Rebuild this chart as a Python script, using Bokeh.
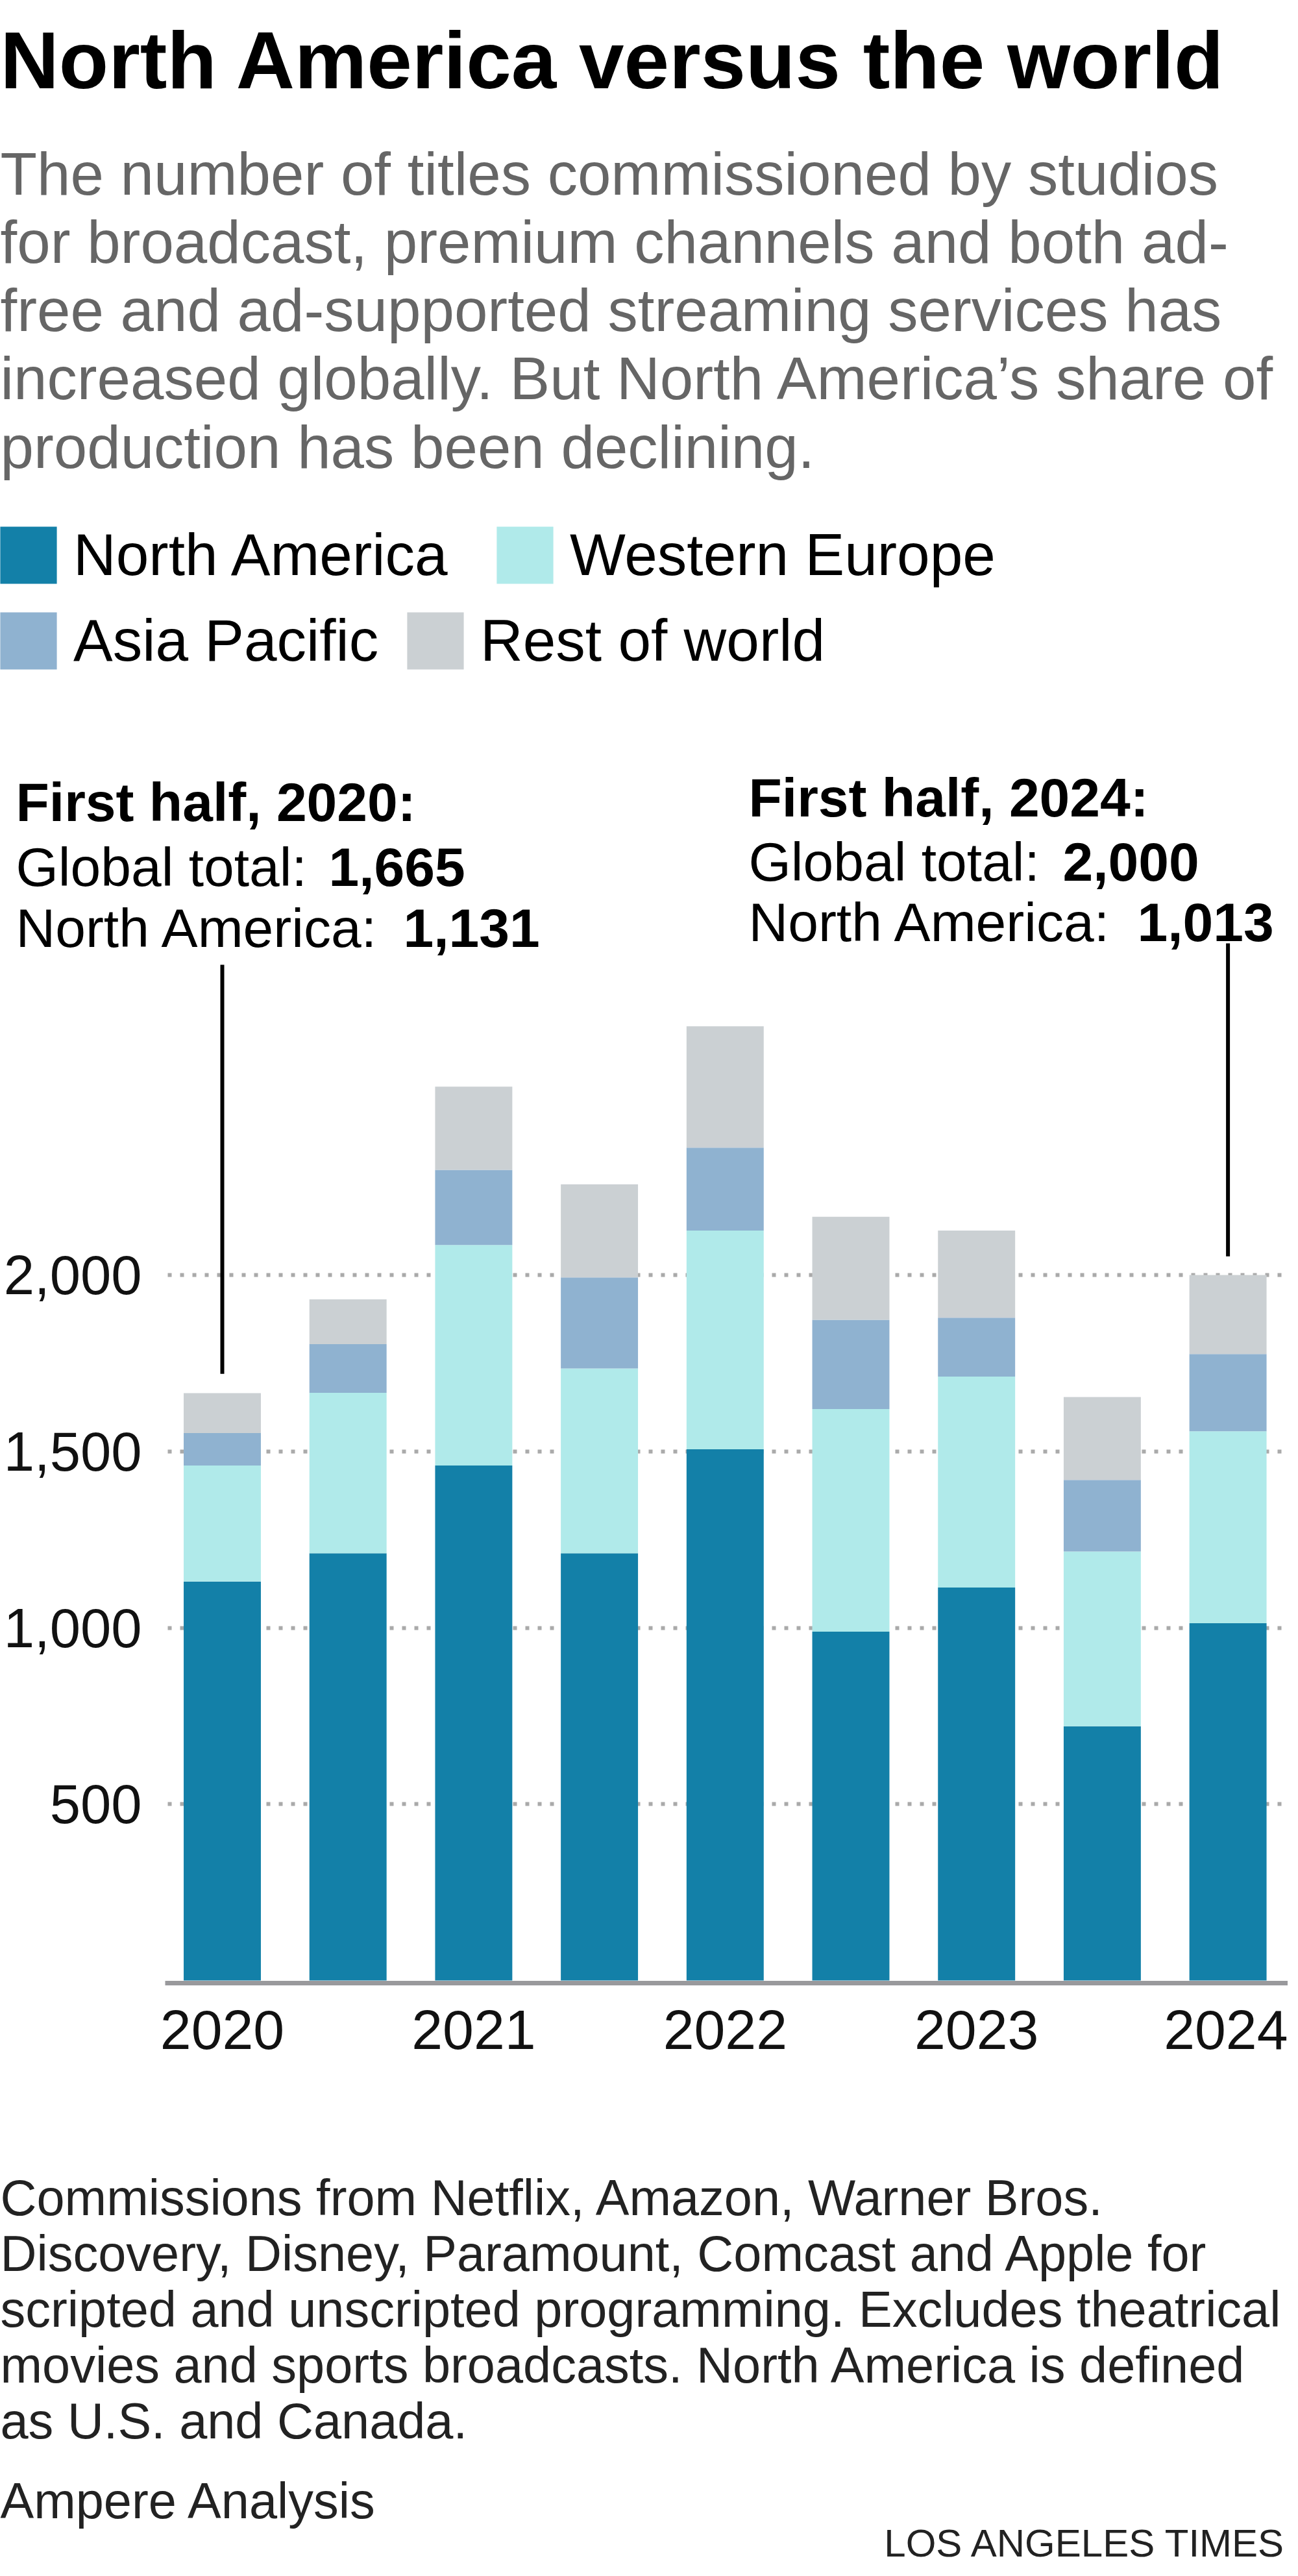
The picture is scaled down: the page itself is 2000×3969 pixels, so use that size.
from bokeh.plotting import figure
from bokeh.models import (Range1d, FixedTicker, NumeralTickFormatter, Label,
                          Legend, LegendItem, ColumnDataSource, LinearAxis, Grid)
from bokeh.embed import file_html
from bokeh.resources import INLINE

# ---------------- data ----------------
periods = ["2020 H1", "2020 H2", "2021 H1", "2021 H2", "2022 H1",
           "2022 H2", "2023 H1", "2023 H2", "2024 H1"]
north_america = [1131, 1211, 1460, 1211, 1506, 989, 1114, 721, 1013]
western_europe = [329, 455, 625, 524, 620, 631, 598, 495, 544]
asia_pacific = [92, 138, 213, 258, 235, 253, 167, 203, 219]
rest_of_world = [113, 127, 236, 264, 344, 292, 247, 235, 224]
series_names = ["North America", "Western Europe", "Asia Pacific", "Rest of world"]
y_ticks = [500, 1000, 1500, 2000]

# ---------------- geometry / styling ----------------
FONT = "Liberation Sans"
colors = ["#1380a8", "#b0eaea", "#8fb2d0", "#cbd0d3"]
W, H = 1984, 3953
PX_X = 193.7            # px per bar slot
PX_Y = 0.5435           # px per title
BAR0 = 342              # canvas x of first bar centre
BASE = 3051             # canvas y of value 0
CHART_LEFT = 254        # canvas x where plotting area starts
x0 = -BAR0 / PX_X
y0 = -(H - BASE) / PX_Y
x_left = x0 + CHART_LEFT / PX_X

xs = list(range(len(periods)))
totals = [a + b + c + d for a, b, c, d in zip(north_america, western_europe, asia_pacific, rest_of_world)]
src = ColumnDataSource(dict(x=xs, na=north_america, we=western_europe,
                            ap=asia_pacific, rw=rest_of_world))

p = figure(width=W, height=H, output_backend="svg", toolbar_location=None,
           x_range=Range1d(x0, x0 + W / PX_X), y_range=Range1d(y0, y0 + H / PX_Y),
           x_axis_type=None, y_axis_type=None, title=None,
           min_border=0, min_border_left=0, min_border_right=0,
           min_border_top=0, min_border_bottom=0)
p.outline_line_color = None
p.background_fill_color = "white"
p.border_fill_color = "white"
p.xgrid.visible = False
p.ygrid.visible = False

# gridlines (beneath the bars)
grid_kw = dict(grid_line_color="#aaaaaa", grid_line_width=6, grid_line_dash="6 13")
if "cross_bounds" in Grid.properties():
    yg = Grid(dimension=1, ticker=FixedTicker(ticks=y_ticks),
              cross_bounds=(x_left + 0.02, x0 + 1979 / PX_X), **grid_kw)
    p.add_layout(yg)
else:
    p.segment(x0=[x_left + 0.02] * len(y_ticks), x1=[x0 + 1979 / PX_X] * len(y_ticks),
              y0=y_ticks, y1=y_ticks, line_color="#aaaaaa", line_width=6, line_dash="6 13")

rs = p.vbar_stack(["na", "we", "ap", "rw"], x="x", width=0.614, source=src,
                  fill_color=colors, line_color=None)

# axes drawn at fixed locations so they do not shrink the canvas
tick_idx = [i for i, s in enumerate(periods) if s.endswith("H1")]
xaxis = LinearAxis(fixed_location=-3.5 / PX_Y, bounds=(x_left, x0 + W / PX_X),
                   ticker=FixedTicker(ticks=tick_idx),
                   major_label_overrides={i: periods[i].split()[0] for i in tick_idx},
                   minor_tick_line_color=None, major_tick_line_color=None,
                   axis_line_color="#99999c", axis_line_width=7,
                   major_label_text_font=FONT, major_label_text_font_size="86px",
                   major_label_text_color="#111111", major_label_standoff=37)
p.add_layout(xaxis, "below")

yaxis = LinearAxis(fixed_location=x_left, ticker=FixedTicker(ticks=y_ticks),
                   formatter=NumeralTickFormatter(format="0,0"),
                   minor_tick_line_color=None, major_tick_line_color=None,
                   axis_line_color=None,
                   major_label_text_font=FONT, major_label_text_font_size="85px",
                   major_label_text_color="#111111", major_label_standoff=30)
p.add_layout(yaxis, "left")

# leader lines from the annotations down to the first and last bars
last = len(periods) - 1
p.segment(x0=[0, last], x1=[0, last], y0=[totals[0] + 55, totals[last] + 53],
          y1=[(BASE - 1486) / PX_Y, (BASE - 1453) / PX_Y],
          line_color="#000000", line_width=6)


def lab(text, fx, fy, size, color="#000000", bold=False, align="left"):
    p.add_layout(Label(x=fx, y=H - fy, x_units="screen", y_units="screen",
                       text=text, text_font=FONT, text_font_size=f"{size}px",
                       text_color=color, text_font_style="bold" if bold else "normal",
                       text_align=align, text_baseline="alphabetic"))


def fmt(v):
    return f"{v:,}"


# title & subtitle
lab("North America versus the world", 0, 92, 125, bold=True)
sub = ["The number of titles commissioned by studios",
       "for broadcast, premium channels and both ad-",
       "free and ad-supported streaming services has",
       "increased globally. But North America\u2019s share of",
       "production has been declining."]
for i, s in enumerate(sub):
    lab(s, 0, 267 + i * 105.3, 92.5, color="#666666")

# legend: one Legend per entry, arranged in two rows
leg_box = [(-11, 910), (754, 910), (-11, 1042), (616, 1042)]   # (left, bottom) of entry box
for r, name, (bx, by) in zip(rs, series_names, leg_box):
    lg = Legend(items=[LegendItem(label=name, renderers=[r])], location=(bx, H - by),
                orientation="horizontal", padding=0, margin=0, spacing=0,
                glyph_width=109, glyph_height=110, label_standoff=15,
                label_text_font=FONT, label_text_font_size="91px",
                label_text_color="#000000", border_line_color=None,
                background_fill_alpha=0)
    p.add_layout(lg, "center")

# annotations
first_y = periods[0].split()[0]
last_y = periods[last].split()[0]
lab(f"First half, {first_y}:", 24, 1235, 84, bold=True)
lab("Global total: ", 24, 1335, 84)
lab(fmt(totals[0]), 506, 1335, 84, bold=True)
lab("North America: ", 24, 1429, 84)
lab(fmt(north_america[0]), 621, 1429, 84, bold=True)

lab(f"First half, {last_y}:", 1153, 1228, 84, bold=True)
lab("Global total: ", 1153, 1327, 84)
lab(fmt(totals[last]), 1637, 1327, 84, bold=True)
lab("North America: ", 1153, 1420, 84)
lab(fmt(north_america[last]), 1752, 1420, 84, bold=True)

# footer
notes = ["Commissions from Netflix, Amazon, Warner Bros.",
         "Discovery, Disney, Paramount, Comcast and Apple for",
         "scripted and unscripted programming. Excludes theatrical",
         "movies and sports broadcasts. North America is defined",
         "as U.S. and Canada."]
for i, s in enumerate(notes):
    lab(s, 0, 3385 + i * 86.1, 77.5, color="#222222")
lab("Ampere Analysis", 0, 3852, 77.5, color="#222222")
lab("LOS ANGELES TIMES", W - 2, 3918, 60, color="#222222", align="right")

open("out.html", "w").write(file_html(p, INLINE))
